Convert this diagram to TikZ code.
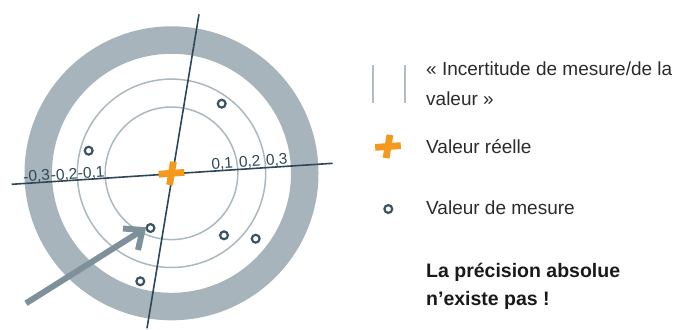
\documentclass[tikz,border=0pt]{standalone}
\usepackage{fontspec}
\setmainfont{Liberation Sans}
\definecolor{ringgray}{HTML}{A8B4BB}
\definecolor{thingray}{HTML}{ABB8BF}
\definecolor{axisdark}{HTML}{2E4756}
\definecolor{dotdark}{HTML}{3B5260}
\definecolor{crossorange}{HTML}{F39A1E}
\definecolor{arrowgray}{HTML}{7E919B}
\definecolor{bargray}{HTML}{B0BDC4}
\definecolor{txt}{HTML}{2B2B2B}
\tikzset{
  ringline/.style={draw=ringgray, line width=27.5pt},
  thincircle/.style={draw=thingray, line width=1.5pt},
  axisline/.style={draw=axisdark, line width=1.6pt},
  ticklabel/.style={font=\fontsize{15.5}{17}\selectfont, text=axisdark, inner sep=0pt, anchor=base, rotate=3.74},
  measdot/.style={circle, draw=dotdark, line width=2.2pt, minimum size=7.8pt, inner sep=0pt},
  bigarrow/.style={draw=arrowgray, line width=6pt},
  legendbar/.style={draw=bargray, line width=2pt},
  legtext/.style={font=\fontsize{19}{30}\selectfont, text=txt, anchor=base west, inner sep=0pt},
  legbold/.style={font=\fontsize{19.5}{30}\selectfont\bfseries, text=black!90, anchor=base west, inner sep=0pt},
  pics/ocross/.style={code={
    \draw[crossorange, line width=6.8pt] (-12.8,0.9) -- (12.8,-0.9);
    \draw[crossorange, line width=6.8pt] (1.9,-11.6) -- (-1.9,11.6);
  }}
}
\begin{document}
\begin{tikzpicture}[x=1pt,y=-1pt]
\useasboundingbox (0,0) rectangle (684,329);
\coordinate (c) at (171.5,173.3);
% rings
\draw[ringline] (c) circle (133.25);
\draw[thincircle] (c) circle (66.3);
\draw[thincircle] (c) circle (94.2);
% axes
\coordinate (hL) at (11.7,184.3);
\coordinate (hR) at (332.7,163.3);
\coordinate (vT) at (199,14.3);
\coordinate (vB) at (147,328.3);
\draw[axisline] (hL) -- (hR);
\draw[axisline] (vT) -- (vB);
% tick labels
\node[ticklabel] (lm3) at (37,181.3) {-0,3};
\node[ticklabel] (lm2) at (64.5,179.5) {-0,2};
\node[ticklabel] (lm1) at (91.5,177.8) {-0,1};
\node[ticklabel] (lp1) at (222.5,168.5) {0,1};
\node[ticklabel] (lp2) at (250,166.7) {0,2};
\node[ticklabel] (lp3) at (277,164.9) {0,3};
% measured values
\node[measdot] (d1) at (221.7,103.7) {};
\node[measdot] (d2) at (88.7,150.7) {};
\node[measdot] (d3) at (150.5,228) {};
\node[measdot] (d4) at (224,235.3) {};
\node[measdot] (d5) at (255.7,238.7) {};
\node[measdot] (d6) at (140.3,281.3) {};
% true value
\pic at (c) {ocross};
% arrow
\coordinate (tail) at (26,303.3);
\coordinate (tip) at (142.5,230);
\coordinate (barbU) at (123,228.5);
\coordinate (barbL) at (138,250);
\draw[bigarrow] (tail) -- (tip);
\draw[bigarrow, line join=miter] (barbU) -- (tip) -- (barbL);
% legend
\coordinate (b1t) at (373.3,65);
\coordinate (b1b) at (373.3,102.7);
\coordinate (b2t) at (405,65);
\coordinate (b2b) at (405,102.7);
\draw[legendbar] (b1t) -- (b1b);
\draw[legendbar] (b2t) -- (b2b);
\node[legtext] (t1) at (426,75) {« Incertitude de mesure/de la};
\node[legtext] (t2) at (426,105) {valeur »};
\pic at (388,146.5) {ocross};
\node[legtext] (t3) at (426,153.3) {Valeur réelle};
\node[measdot] (ld) at (388.3,209) {};
\node[legtext] (t4) at (426,214) {Valeur de mesure};
\node[legbold] (t5) at (426,277) {La précision absolue};
\node[legbold] (t6) at (426,305.5) {n’existe pas !};
\end{tikzpicture}
\end{document}
